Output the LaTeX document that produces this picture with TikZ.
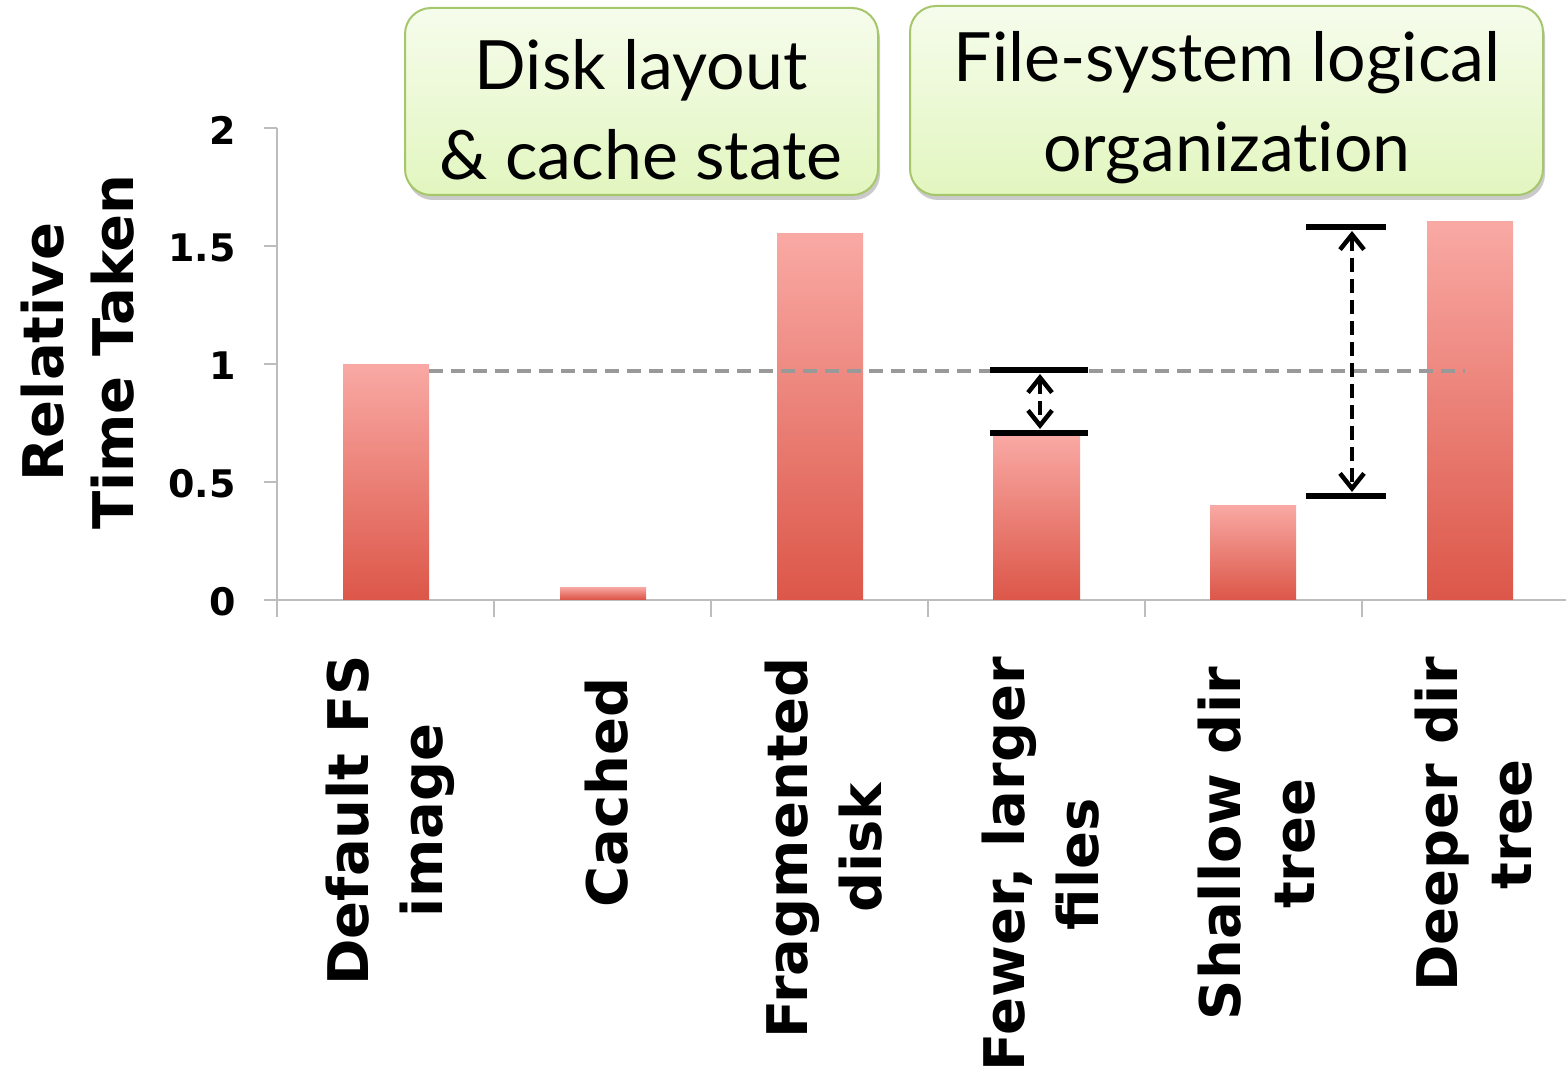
\documentclass[tikz,border=0pt]{standalone}
\usepackage{fontspec}
\setmainfont{Lato}[Ligatures={NoCommon}]
\newfontfamily\heavy{DejaVu Sans}
\usetikzlibrary{arrows.meta,shadows,calc}
\definecolor{barlight}{HTML}{F9A9A4}
\definecolor{bardark}{HTML}{DC5749}
\definecolor{boxtop}{HTML}{F6FCEC}
\definecolor{boxbot}{HTML}{E2F6BF}
\definecolor{boxline}{HTML}{A6C66C}
\definecolor{axisgrey}{HTML}{BDBDBD}
\definecolor{refgrey}{HTML}{999999}
\tikzset{
  bar/.style={top color=barlight, bottom color=bardark, draw=none},
  axisline/.style={draw=axisgrey, line width=2pt},
  ticklbl/.style={anchor=east, font=\heavy\fontsize{38}{40}\selectfont\bfseries, inner sep=0pt},
  catlbl/.style={rotate=90, anchor=east, align=center, inner sep=0pt, font=\heavy\fontsize{56}{74}\selectfont\bfseries},
  callout/.style={rounded corners=26pt, draw=boxline, line width=2pt, top color=boxtop, bottom color=boxbot,
     drop shadow={shadow xshift=2pt, shadow yshift=-5pt, opacity=0.35, fill=black!60}},
  calltext/.style={align=center, font=\fontsize{68}{90}\selectfont},
  marker/.style={draw=black, line width=5.5pt},
  gaparrow/.style={draw=black, line width=4.5pt, dash pattern=on 14pt off 7pt, {Straight Barb[length=15pt,width=24pt,line width=4.5pt]}-{Straight Barb[length=15pt,width=24pt,line width=4.5pt]}},
}
\begin{document}
\begin{tikzpicture}[x=1pt,y=-1pt]
\useasboundingbox (0,0) rectangle (1566,1078);
% axes
\draw[axisline] (277,128) -- (277,617);
\foreach \yy in {128,246,364,482,600} \draw[axisline] (264,\yy) -- (277,\yy);
\draw[axisline] (264,600) -- (1566,600);
\foreach \xx in {494,711,928,1145,1362} \draw[axisline] (\xx,600) -- (\xx,617);
% tick labels
\node[ticklbl] (t2) at (236,130) {2};
\node[ticklbl] (t15) at (236,248) {1.5};
\node[ticklbl] (t1) at (236,366) {1};
\node[ticklbl] (t05) at (236,484) {0.5};
\node[ticklbl] (t0) at (236,602) {0};
% axis title
\node[rotate=90, align=center, font=\heavy\fontsize{56}{70}\selectfont\bfseries] (ytitle) at (78,352) {Relative\\Time Taken};
% bars
\shade[bar] (343,364) rectangle (429,599);
\shade[bar] (560,587) rectangle (646,599);
\shade[bar] (777,234) rectangle (863,599);
\shade[bar] (993,434) rectangle (1080,599);
\shade[bar] (1210,505) rectangle (1296,599);
\shade[bar] (1427,222) rectangle (1513,599);
% reference line
\coordinate (refL) at (429,371);
\coordinate (refR) at (1465,371);
\draw[draw=refgrey, line width=4pt, dash pattern=on 14pt off 8pt] (refL) -- (refR);
% markers
\coordinate (m1a) at (990,370); \coordinate (m1b) at (1088,370);
\coordinate (m2a) at (990,433); \coordinate (m2b) at (1088,433);
\coordinate (m3a) at (1306,227); \coordinate (m3b) at (1386,227);
\coordinate (m4a) at (1306,496); \coordinate (m4b) at (1386,496);
\draw[marker] (m1a) -- (m1b);
\draw[marker] (m2a) -- (m2b);
\draw[marker] (m3a) -- (m3b);
\draw[marker] (m4a) -- (m4b);
\coordinate (g1t) at (1040,374); \coordinate (g1b) at (1040,429);
\coordinate (g2t) at (1352,231); \coordinate (g2b) at (1352,492);
\draw[gaparrow] (g1t) -- (g1b);
\draw[gaparrow] (g2t) -- (g2b);
% callouts
\path[callout] (405,8) rectangle (878,195);
\node[calltext] (c1) at (641,110) {Disk layout\\\& cache state};
\path[callout] (910,6) rectangle (1543,195);
\node[calltext] (c2) at (1227,108) {File-system logical\\organization};
% category labels
\node[catlbl] (l1) at (390,655) {Default FS\\image};
\node[catlbl] (l2) at (607,677) {Cached};
\node[catlbl] (l3) at (824,657) {Fragmented\\disk};
\node[catlbl] (l4) at (1041,657) {Fewer, larger\\files};
\node[catlbl] (l5) at (1257,667) {Shallow dir\\tree};
\node[catlbl] (l6) at (1474,657) {Deeper dir\\tree};
\end{tikzpicture}
\end{document}
